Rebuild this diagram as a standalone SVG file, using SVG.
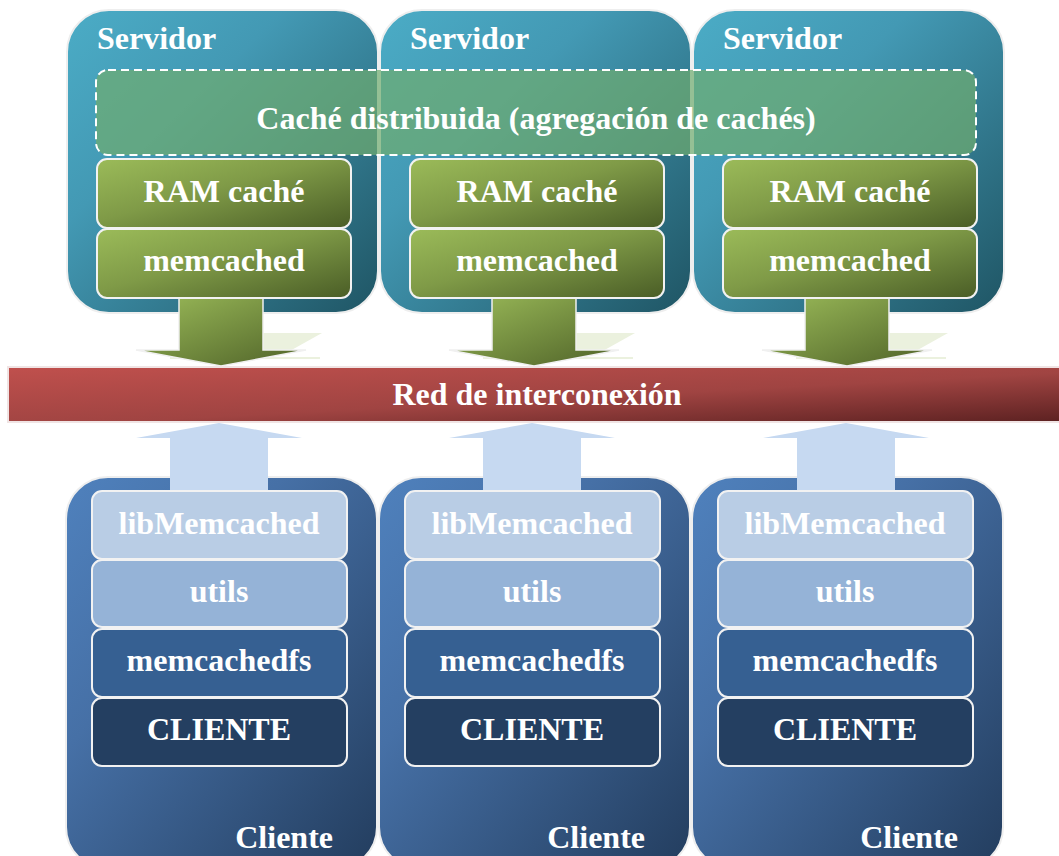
<svg xmlns="http://www.w3.org/2000/svg" width="1059" height="856" viewBox="0 0 1059 856">
<defs>
<linearGradient id="gSrv" x1="0" y1="0" x2="1" y2="1"><stop offset="0" stop-color="#4bacc6"/><stop offset="0.35" stop-color="#4399b4"/><stop offset="1" stop-color="#1f5564"/></linearGradient>
<linearGradient id="gCli" x1="0" y1="0" x2="1" y2="1"><stop offset="0" stop-color="#4f81bd"/><stop offset="0.35" stop-color="#4670a6"/><stop offset="1" stop-color="#233d5e"/></linearGradient>
<linearGradient id="gGreen" x1="0" y1="0" x2="1" y2="1"><stop offset="0" stop-color="#9bbb59"/><stop offset="0.45" stop-color="#7f9a47"/><stop offset="1" stop-color="#4a5d26"/></linearGradient>
<linearGradient id="gArrow" x1="0" y1="0" x2="1" y2="1"><stop offset="0" stop-color="#9bbb59"/><stop offset="1" stop-color="#4f6228"/></linearGradient>
<linearGradient id="gRed" x1="0" y1="0" x2="1" y2="1"><stop offset="0" stop-color="#c0504d"/><stop offset="0.55" stop-color="#a04442"/><stop offset="1" stop-color="#5c2121"/></linearGradient>
</defs>
<style>
.box{stroke:#eeeeee;stroke-width:2}
.srv{fill:url(#gSrv)}
.cli{fill:url(#gCli)}
.layer{stroke:#f2f2f2;stroke-width:2}
.grn{fill:url(#gGreen)}
.lib{fill:#b9cde5}
.utl{fill:#95b3d7}
.mfs{fill:#366092}
.cte{fill:#243f61}
.down{fill:url(#gArrow);stroke:#f0f0f0;stroke-width:1.5}
.shadow{fill:#ebf1de}
.up{fill:#c6d9f1}
.t{font-family:"Liberation Serif","Times New Roman",serif;font-weight:bold;font-size:32px;fill:#ffffff}
.c{text-anchor:middle}
.e{text-anchor:end}
</style>

<g id="server1"><rect class="box srv" x="67" y="10" width="311" height="303" rx="42"/><text class="t" x="97" y="49">Servidor</text></g>
<g id="server2"><rect class="box srv" x="380" y="10" width="311" height="303" rx="42"/><text class="t" x="410" y="49">Servidor</text></g>
<g id="server3"><rect class="box srv" x="693" y="10" width="311" height="303" rx="42"/><text class="t" x="723" y="49">Servidor</text></g>

<g id="client1"><rect class="box cli" x="66" y="477" width="311" height="392" rx="42"/><text class="t e" x="333" y="848">Cliente</text></g>
<g id="client2"><rect class="box cli" x="379" y="477" width="311" height="392" rx="42"/><text class="t e" x="645" y="848">Cliente</text></g>
<g id="client3"><rect class="box cli" x="692" y="477" width="311" height="392" rx="42"/><text class="t e" x="958" y="848">Cliente</text></g>

<g id="connectors">
<g id="down1"><polygon class="shadow" points="263,333 322,333 288,352 263,352"/><line x1="170" y1="358" x2="320" y2="358" stroke="#ebf1de" stroke-width="2"/><polygon class="down" points="179,298 263,298 263,350 306,350 221,366 136,350 179,350"/></g>
<g id="down2"><polygon class="shadow" points="576,333 635,333 601,352 576,352"/><line x1="483" y1="358" x2="633" y2="358" stroke="#ebf1de" stroke-width="2"/><polygon class="down" points="492,298 576,298 576,350 619,350 534,366 449,350 492,350"/></g>
<g id="down3"><polygon class="shadow" points="889,333 948,333 914,352 889,352"/><line x1="796" y1="358" x2="946" y2="358" stroke="#ebf1de" stroke-width="2"/><polygon class="down" points="805,298 889,298 889,350 932,350 847,366 762,350 805,350"/></g>
<polygon class="up" points="219,423 302,438 268,438 268,493 170,493 170,438 136,438"/>
<polygon class="up" points="532,423 615,438 581,438 581,493 483,493 483,438 449,438"/>
<polygon class="up" points="846,423 929,438 895,438 895,493 797,493 797,438 763,438"/>
</g>

<g id="network"><rect x="8" y="367" width="1060" height="55" fill="url(#gRed)" stroke="#f0e4e4" stroke-width="2"/><text class="t c" x="537" y="405">Red de interconexión</text></g>

<g id="cache"><rect x="96" y="70" width="880" height="85" rx="12" fill="#6fad6f" fill-opacity="0.7" stroke="#ffffff" stroke-width="2" stroke-dasharray="8,5"/><text class="t c" x="536" y="129">Caché distribuida (agregación de cachés)</text></g>

<g id="ram1"><rect class="layer grn" x="97" y="159" width="254" height="69" rx="10"/><text class="t c" x="224" y="202">RAM caché</text></g>
<g id="mem1"><rect class="layer grn" x="97" y="229" width="254" height="69" rx="10"/><text class="t c" x="224" y="271">memcached</text></g>
<g id="ram2"><rect class="layer grn" x="410" y="159" width="254" height="69" rx="10"/><text class="t c" x="537" y="202">RAM caché</text></g>
<g id="mem2"><rect class="layer grn" x="410" y="229" width="254" height="69" rx="10"/><text class="t c" x="537" y="271">memcached</text></g>
<g id="ram3"><rect class="layer grn" x="723" y="159" width="254" height="69" rx="10"/><text class="t c" x="850" y="202">RAM caché</text></g>
<g id="mem3"><rect class="layer grn" x="723" y="229" width="254" height="69" rx="10"/><text class="t c" x="850" y="271">memcached</text></g>

<g id="lib1"><rect class="layer lib" x="92" y="491" width="255" height="68" rx="10"/><text class="t c" x="219" y="534">libMemcached</text></g>
<g id="utils1"><rect class="layer utl" x="92" y="560" width="255" height="67" rx="10"/><text class="t c" x="219" y="602">utils</text></g>
<g id="mfs1"><rect class="layer mfs" x="92" y="629" width="255" height="68" rx="10"/><text class="t c" x="219" y="671">memcachedfs</text></g>
<g id="cte1"><rect class="layer cte" x="92" y="698" width="255" height="68" rx="10"/><text class="t c" x="219" y="740">CLIENTE</text></g>

<g id="lib2"><rect class="layer lib" x="405" y="491" width="255" height="68" rx="10"/><text class="t c" x="532" y="534">libMemcached</text></g>
<g id="utils2"><rect class="layer utl" x="405" y="560" width="255" height="67" rx="10"/><text class="t c" x="532" y="602">utils</text></g>
<g id="mfs2"><rect class="layer mfs" x="405" y="629" width="255" height="68" rx="10"/><text class="t c" x="532" y="671">memcachedfs</text></g>
<g id="cte2"><rect class="layer cte" x="405" y="698" width="255" height="68" rx="10"/><text class="t c" x="532" y="740">CLIENTE</text></g>

<g id="lib3"><rect class="layer lib" x="718" y="491" width="255" height="68" rx="10"/><text class="t c" x="845" y="534">libMemcached</text></g>
<g id="utils3"><rect class="layer utl" x="718" y="560" width="255" height="67" rx="10"/><text class="t c" x="845" y="602">utils</text></g>
<g id="mfs3"><rect class="layer mfs" x="718" y="629" width="255" height="68" rx="10"/><text class="t c" x="845" y="671">memcachedfs</text></g>
<g id="cte3"><rect class="layer cte" x="718" y="698" width="255" height="68" rx="10"/><text class="t c" x="845" y="740">CLIENTE</text></g>
</svg>
